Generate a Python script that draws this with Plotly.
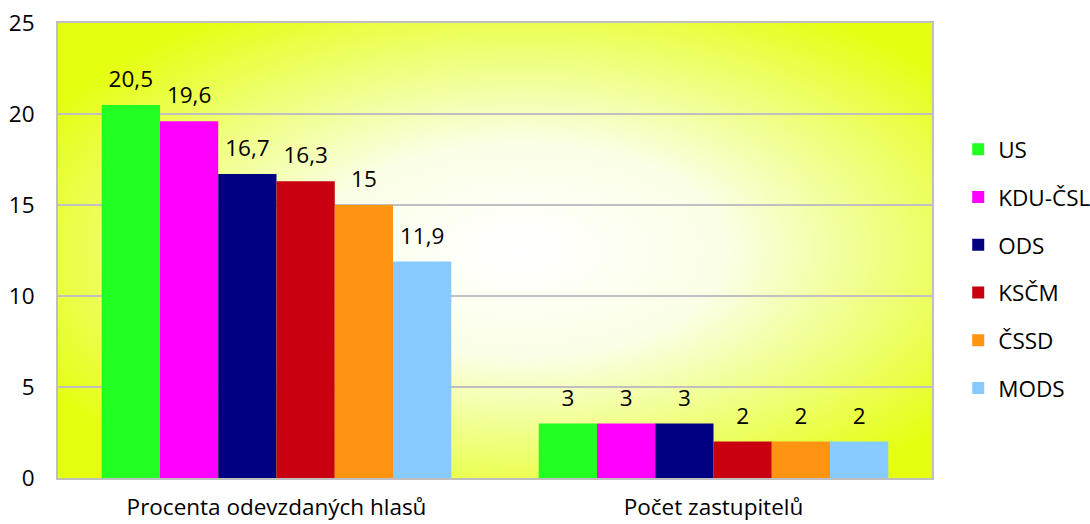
import plotly.graph_objects as go
import base64

categories = ["Procenta odevzdaných hlasů", "Počet zastupitelů"]
parties = ["US", "KDU-ČSL", "ODS", "KSČM", "ČSSD", "MODS"]
values_US = [20.5, 3]
values_KDU = [19.6, 3]
values_ODS = [16.7, 3]
values_KSCM = [16.3, 2]
values_CSSD = [15, 2]
values_MODS = [11.9, 2]
series = [values_US, values_KDU, values_ODS, values_KSCM, values_CSSD, values_MODS]
colors = ["#22ff22", "#ff00ff", "#000080", "#c8000f", "#ff9412", "#86caff"]
y_ticks = [0, 5, 10, 15, 20, 25]

FONT = "Open Sans"
FS = 22.5

fig = go.Figure()
for name, vals, col in zip(parties, series, colors):
    fig.add_trace(go.Bar(
        x=categories, y=vals, name=name,
        marker=dict(color=col, line=dict(width=0)),
        offsetgroup=name, alignmentgroup="a", legendgroup=name,
    ))
for name, vals in zip(parties, series):
    fig.add_trace(go.Scatter(
        x=categories, y=vals, mode="text+markers", showlegend=False,
        marker=dict(size=18, opacity=0),
        text=vals, texttemplate="%{y}", textposition="top center",
        textfont=dict(family=FONT, size=FS, color="#000000"),
        offsetgroup=name, alignmentgroup="a", legendgroup=name,
        cliponaxis=False, hoverinfo="skip",
    ))

svg = ('<svg xmlns="http://www.w3.org/2000/svg" width="874" height="455" viewBox="0 0 874 455" preserveAspectRatio="none">'
       '<defs><radialGradient id="g" cx="0.53" cy="0.5" r="0.62" fx="0.53" fy="0.5">'
       '<stop offset="0" stop-color="#ffffff"/>'
       '<stop offset="0.38" stop-color="#fbffe6"/>'
       '<stop offset="1" stop-color="#e4ff10"/>'
       '</radialGradient></defs>'
       '<rect width="874" height="455" fill="url(#g)"/></svg>')
src = "data:image/svg+xml;base64," + base64.b64encode(svg.encode()).decode()

fig.update_layout(
    width=1090, height=524,
    margin=dict(l=58, r=158, t=23, b=46, autoexpand=False),
    paper_bgcolor="white", plot_bgcolor="rgba(0,0,0,0)",
    barmode="group", bargap=0.2, bargroupgap=0,
    scattermode="group", scattergap=0.2,
    separators=", ",
    font=dict(family=FONT, size=FS, color="#000000"),
    images=[dict(source=src, xref="paper", yref="paper", x=0, y=1,
                 sizex=1, sizey=1, sizing="stretch", layer="below")],
    legend=dict(x=1.03, y=0.46, yanchor="middle", xanchor="left",
                font=dict(family=FONT, size=FS), tracegroupgap=15.5,
                itemwidth=30, bgcolor="rgba(0,0,0,0)"),
    showlegend=True,
)
fig.update_yaxes(range=[0, 25], tickvals=y_ticks, showgrid=True,
                 gridcolor="#c0c0c0", gridwidth=1.5, zeroline=False,
                 showline=True, linecolor="#bfbfbf", linewidth=2, mirror=True,
                 ticks="", ticklabelstandoff=17, automargin=False,
                 tickfont=dict(family=FONT, size=FS))
fig.update_xaxes(showline=True, linecolor="#bfbfbf", linewidth=2, mirror=True,
                 ticks="", ticklabelstandoff=8, automargin=False,
                 tickfont=dict(family=FONT, size=FS))

fig.write_html("out.html", config={"displayModeBar": False},
               post_script="document.body.style.margin='0';document.body.style.padding='0';")
